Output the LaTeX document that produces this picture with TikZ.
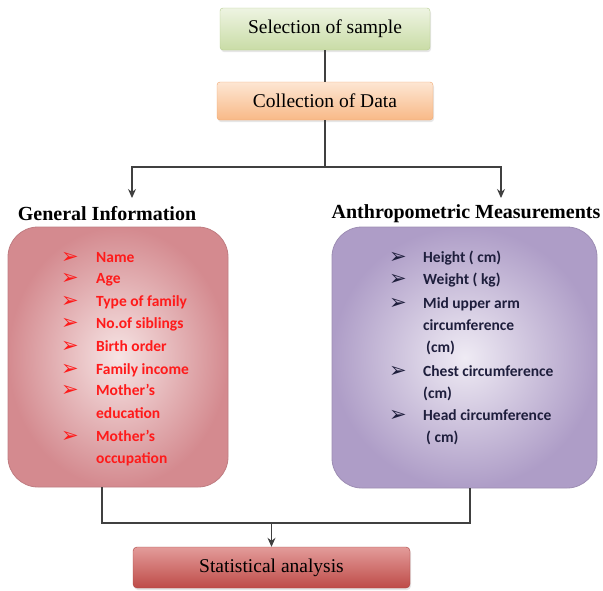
\documentclass[tikz,border=0pt]{standalone}
\usepackage{fontspec}
\setmainfont{Liberation Serif}
\newfontfamily\listfont{Carlito}
\newfontfamily\bulfont{DejaVu Sans}
\usetikzlibrary{arrows.meta,shadows}
\definecolor{greenA}{HTML}{EEF4E2}
\definecolor{greenB}{HTML}{C9DCA6}
\definecolor{greenD}{HTML}{B5CC8E}
\definecolor{orA}{HTML}{FDE6D3}
\definecolor{orB}{HTML}{F8B987}
\definecolor{orD}{HTML}{F0A66E}
\definecolor{pinkIn}{HTML}{F6E4E4}
\definecolor{pinkOut}{HTML}{D48A8F}
\definecolor{purIn}{HTML}{EFEBF4}
\definecolor{purOut}{HTML}{AE9DC7}
\definecolor{redA}{HTML}{E39C9A}
\definecolor{redB}{HTML}{BE4B48}
\definecolor{redD}{HTML}{A94442}
\definecolor{listred}{HTML}{FF1A1A}
\definecolor{listdark}{HTML}{1E1E3C}
\definecolor{linegray}{HTML}{404040}
\tikzset{
  topbox/.style={rectangle, rounded corners=3pt, font=\fontsize{19.5}{22}\selectfont, text=black,
     drop shadow={opacity=0.2, shadow xshift=1pt, shadow yshift=-2pt}},
  bigbox/.style={rectangle, rounded corners=30pt, draw=#1, line width=0.8pt},
  header/.style={font=\fontsize{20}{23}\selectfont\bfseries},
  li/.style={anchor=base west, font=\listfont\bfseries\fontsize{15.5}{18}\selectfont, inner sep=0pt},
  bu/.style={anchor=base west, font=\bulfont\fontsize{21}{24}\selectfont, inner sep=0pt},
  conn/.style={draw=linegray, line width=1.1pt},
  arr/.style={conn, -{Stealth[length=9pt,width=8pt]}}
}
\begin{document}
\begin{tikzpicture}[x=1pt,y=-1pt]
\useasboundingbox (0,0) rectangle (603,590);

\node[topbox, top color=greenA, bottom color=greenB, draw=greenD, minimum width=210pt, minimum height=42pt] (sel) at (325,29) {Selection of sample};
\node[topbox, top color=orA, bottom color=orB, draw=orD, minimum width=216pt, minimum height=38pt] (col) at (325,101) {Collection of Data};

\node[header] (gi) at (107,214) {General Information};
\node[header] (am) at (466,214) {Anthropometric Measurements};

\path[bigbox=pinkOut!90!black, inner color=pinkIn, outer color=pinkOut] (8,227) rectangle (228,487);
\node[inner sep=0pt] (lb) at (118,357) {};
\path[bigbox=purOut!90!black, inner color=purIn, outer color=purOut] (332,227) rectangle (597,488);
\node[inner sep=0pt] (rb) at (464,357) {};

\node[topbox, rounded corners=4pt, top color=redA, bottom color=redB, draw=redD, minimum width=277pt, minimum height=41pt, drop shadow={opacity=0}] (st) at (271.5,567.5) {Statistical analysis};

% left list
\foreach \y [count=\i] in {257,278,301,323,346,369,390,436}{
  \node[bu, text=listred] (lbu\i) at (61,\y+6) {➢};
}
\foreach \y/\t [count=\i] in {257/Name,278/Age,301/Type of family,323/No.of siblings,346/Birth order,369/Family income,390/Mother’s,413/education,436/Mother’s,458/occupation}{
  \node[li, text=listred] (lt\i) at (96,\y+5) {\t};
}
% right list
\foreach \y [count=\i] in {257,279,303,371,415}{
  \node[bu, text=listdark] (rbu\i) at (389,\y+6) {➢};
}
\foreach \x/\y/\t [count=\i] in {423/257/Height ( cm),423/279/Weight ( kg),423/303/Mid upper arm,423/325/circumference,426/347/(cm),423/371/Chest circumference,423/393/(cm),423/415/Head circumference,426/437/( cm)}{
  \node[li, text=listdark] (rt\i) at (\x,\y+5) {\t};
}

% connectors
\coordinate (j) at (325,167);
\coordinate (gin) at (132,198);
\coordinate (amin) at (501,198);
\coordinate (lout) at (102,487);
\coordinate (rout) at (470,488);
\coordinate (m) at (271.5,523);
\draw[conn] (sel.south) -- (col.north);
\draw[conn] (col.south) -- (j);
\draw[arr] (j) -| (gin);
\draw[arr] (j) -| (amin);
\draw[conn] (lout) |- (m);
\draw[conn] (rout) |- (m);
\draw[arr] (m) -- (st.north);
\end{tikzpicture}
\end{document}
